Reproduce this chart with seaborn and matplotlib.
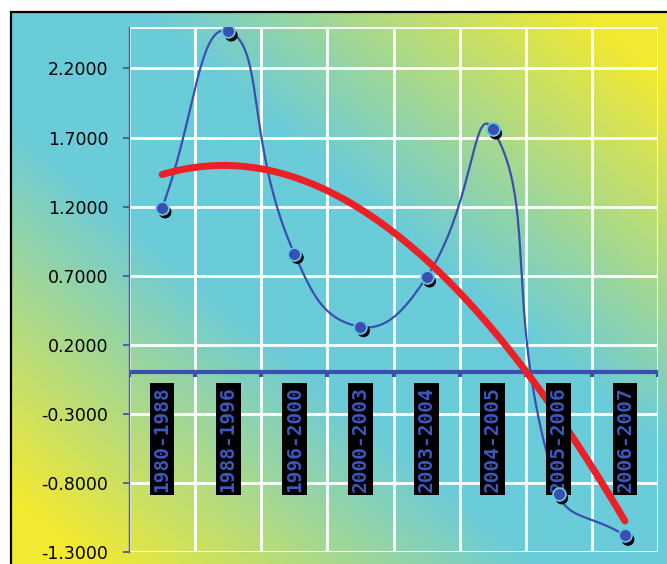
import numpy as np
import pandas as pd
import matplotlib
matplotlib.use("Agg")
import matplotlib.pyplot as plt
import matplotlib.transforms as mtransforms
from matplotlib.patches import Rectangle
import seaborn as sns

categories = ["1980-1988", "1988-1996", "1996-2000", "2000-2003",
              "2003-2004", "2004-2005", "2005-2006", "2006-2007"]
values = [1.19, 2.47, 0.86, 0.33, 0.69, 1.76, -0.88, -1.18]
trend = [1.44, 1.48, 1.41, 1.21, 0.81, 0.28, -0.30, -1.08]
yticks = [-1.3, -0.8, -0.3, 0.2, 0.7, 1.2, 1.7, 2.2]

W, H, DPI = 667, 564, 100
CYAN = np.array([0x6a, 0xcb, 0xd9]) / 255
YELLOW = np.array([0xf3, 0xe9, 0x30]) / 255
BLUE = "#3b4fae"

sns.set_theme(style="white")
plt.rcParams["font.family"] = ["DejaVu Sans"]

fig = plt.figure(figsize=(W / DPI, H / DPI), dpi=DPI)
fig.patch.set_facecolor("white")

# background gradient (chart area)
bx0, by0 = 11, 12
bg = fig.add_axes([bx0 / W, 0, 1 - bx0 / W, 1 - by0 / H], zorder=-10)
gx = np.linspace(bx0, W, 300)
gy = np.linspace(by0, H, 260)
GX, GY = np.meshgrid(gx, gy)
t = (GX - bx0) / (W - bx0) - (GY - by0) / (H - by0)
f = np.clip((np.abs(t) - 0.2) / 0.68, 0, 1)[..., None]
img = CYAN * (1 - f) + YELLOW * f
bg.imshow(img, aspect="auto", extent=[0, 1, 0, 1], origin="upper")
bg.set_axis_off()

# black border (left and top edges visible)
fig.patches.append(Rectangle((bx0 / W, -0.5), 2.0, 1.5 - by0 / H,
                             transform=fig.transFigure, fill=False,
                             ec="black", lw=1.6, zorder=-5))

ax = fig.add_axes([129 / W, 1 - 552 / H, (658 - 129) / W, (552 - 27) / H])
ax.set_facecolor("none")

x = np.arange(len(categories))
df = pd.DataFrame({"pos": x, "value": values, "period": categories})

YSCALE = (140 / 0.5) / 66.1  # screen aspect: px per y-unit / px per category


def smooth(xs, ys, tension=0.5, n=40):
    P = np.column_stack([xs, np.asarray(ys, float) * YSCALE]).astype(float)
    m = len(P)
    c_in, c_out = [], []
    for i in range(m):
        p0 = P[max(i - 1, 0)]
        p1 = P[i]
        p2 = P[min(i + 1, m - 1)]
        d01 = np.hypot(*(p1 - p0))
        d12 = np.hypot(*(p2 - p1))
        tot = d01 + d12
        fa = tension * d01 / tot if tot else 0
        fb = tension * d12 / tot if tot else 0
        c_in.append(p1 - fa * (p2 - p0))
        c_out.append(p1 + fb * (p2 - p0))
    pts = []
    s = np.linspace(0, 1, n)[:, None]
    for i in range(m - 1):
        a, b, c, d = P[i], c_out[i], c_in[i + 1], P[i + 1]
        seg = ((1 - s) ** 3 * a + 3 * (1 - s) ** 2 * s * b
               + 3 * (1 - s) * s ** 2 * c + s ** 3 * d)
        pts.append(seg if i == 0 else seg[1:])
    pts = np.vstack(pts)
    return pts[:, 0], pts[:, 1] / YSCALE


cx, cy = smooth(x, values)
sns.lineplot(x=cx, y=cy, sort=False, estimator=None,
             color=BLUE, lw=1.6, ax=ax, zorder=3)

# smooth trend curve through the trend readings
coef = np.polyfit(x, trend, 3)
tx = np.linspace(0, len(x) - 1, 200)
sns.lineplot(x=tx, y=np.polyval(coef, tx), sort=False, estimator=None,
             color="#ec2027", lw=5, ax=ax, zorder=4)

# markers with shadow
shadow = mtransforms.offset_copy(ax.transData, fig=fig, x=3, y=-4, units="dots")
sns.scatterplot(data=df, x="pos", y="value", s=85, color="black",
                edgecolor="none", transform=shadow, ax=ax, zorder=5)
sns.scatterplot(data=df, x="pos", y="value", s=85, color=BLUE,
                edgecolor="#5ec8ea", linewidth=1.3, ax=ax, zorder=6)

# axes
ax.set_xlim(-0.5, len(x) - 0.5)
ax.set_ylim(-1.3, 2.5)
ax.set_yticks(yticks)
ax.set_yticklabels([f"{v:.4f}" for v in yticks], fontsize=12.5, color="black")
ax.set_xticks([])
for yy in yticks + [2.5]:
    ax.axhline(yy, color="white", lw=2, zorder=1)
for xb in np.arange(-0.5, len(x), 1.0):
    ax.axvline(xb, color="white", lw=2, zorder=1)
for sp in ["top", "right", "bottom"]:
    ax.spines[sp].set_visible(False)
ax.spines["left"].set_color("#4a5cb5")
ax.spines["left"].set_linewidth(1.0)
ax.spines["left"].set_zorder(2)
ax.tick_params(axis="y", length=4, width=1.2, color="#3b4fae", pad=11, left=True)
ax.set_xlabel("")
ax.set_ylabel("")

# x axis at zero
ax.axhline(0, color=BLUE, lw=3, zorder=2)
ax.vlines(np.arange(-0.5, len(x), 1.0), -0.035, 0, color=BLUE, lw=3, zorder=2)

for i, c in enumerate(categories):
    ax.text(i, -0.1, c, rotation=90, ha="center", va="top",
            fontsize=14, fontweight="bold", family="DejaVu Sans Mono",
            color="#3d58bd", zorder=4.5,
            bbox=dict(boxstyle="square,pad=0.15", fc="black", ec="none"))

fig.savefig("out.png", dpi=DPI)
